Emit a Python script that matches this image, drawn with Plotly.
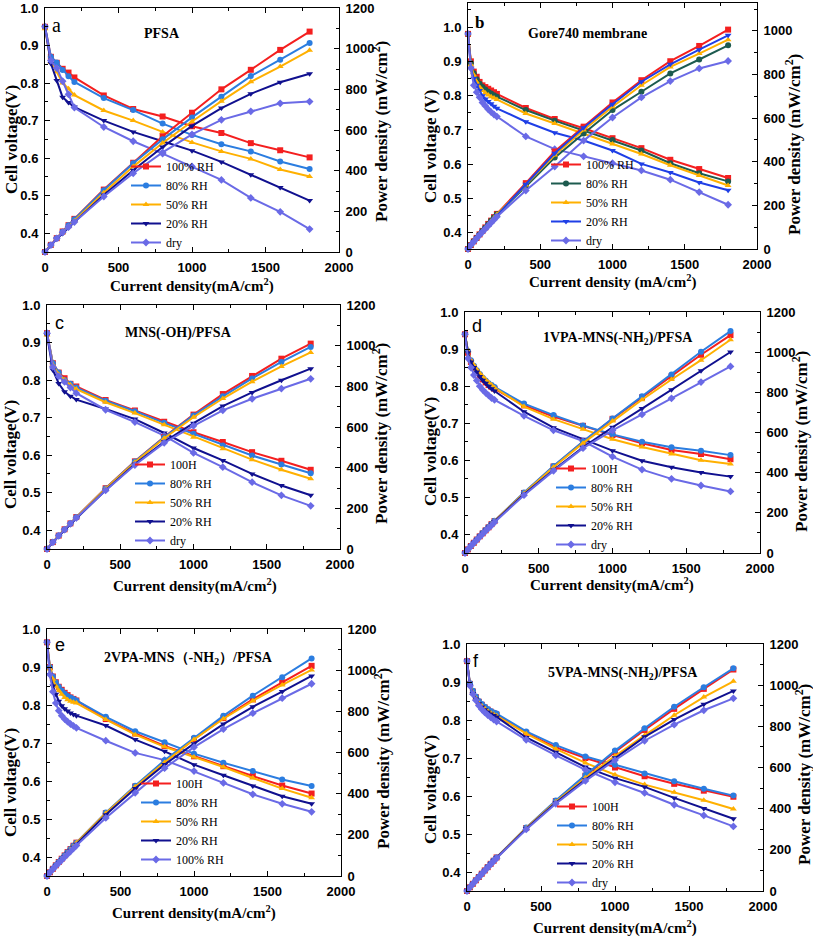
import plotly.graph_objects as go

# ---------------- data ----------------
I_SPARSE = [0, 40, 80, 120, 160, 200, 400, 600, 800, 1000, 1200, 1400, 1600, 1800]
I_DENSE = [0, 20, 40, 60, 80, 100, 120, 140, 160, 180, 200, 400, 600, 800, 1000, 1200, 1400, 1600, 1800]

# panel a : PFSA
A_V100 = [0.95, 0.87, 0.854, 0.838, 0.828, 0.815, 0.767, 0.731, 0.711, 0.685, 0.667, 0.640, 0.621, 0.602]
A_V80 = [0.95, 0.87, 0.855, 0.835, 0.818, 0.803, 0.760, 0.728, 0.692, 0.662, 0.637, 0.618, 0.591, 0.571]
A_V50 = [0.945, 0.855, 0.83, 0.80, 0.785, 0.768, 0.727, 0.700, 0.670, 0.642, 0.618, 0.598, 0.570, 0.551]
A_V20 = [0.95, 0.852, 0.807, 0.762, 0.748, 0.736, 0.700, 0.670, 0.645, 0.620, 0.590, 0.556, 0.522, 0.487]
A_VDRY = [0.95, 0.86, 0.84, 0.805, 0.77, 0.735, 0.683, 0.645, 0.612, 0.578, 0.542, 0.494, 0.457, 0.411]
A_P100 = [0, 35, 68, 101, 132, 163, 307, 439, 569, 685, 800, 896, 994, 1084]
A_P80 = [0, 35, 68, 100, 131, 161, 304, 437, 554, 662, 764, 865, 946, 1028]
A_P50 = [0, 34, 66, 96, 126, 154, 291, 420, 536, 642, 742, 837, 912, 992]
A_P20 = [0, 34, 65, 91, 120, 147, 280, 402, 516, 620, 708, 778, 835, 877]
A_PDRY = [0, 34, 67, 97, 123, 147, 273, 387, 490, 578, 650, 692, 731, 740]

# panel b : Gore740
B_V100 = [0.98, 0.90, 0.87, 0.855, 0.84, 0.83, 0.825, 0.82, 0.815, 0.81, 0.805, 0.764, 0.732, 0.705, 0.676, 0.647, 0.613, 0.586, 0.560]
B_V80 = [0.98, 0.895, 0.865, 0.848, 0.835, 0.825, 0.818, 0.811, 0.806, 0.801, 0.797, 0.758, 0.727, 0.698, 0.671, 0.640, 0.603, 0.574, 0.550]
B_V50 = [0.98, 0.89, 0.86, 0.84, 0.825, 0.815, 0.808, 0.802, 0.797, 0.793, 0.789, 0.748, 0.719, 0.690, 0.659, 0.630, 0.597, 0.567, 0.538]
B_V20 = [0.98, 0.88, 0.85, 0.83, 0.815, 0.80, 0.79, 0.783, 0.776, 0.769, 0.763, 0.724, 0.692, 0.669, 0.640, 0.601, 0.576, 0.547, 0.524]
B_VDRY = [0.98, 0.88, 0.83, 0.81, 0.795, 0.78, 0.77, 0.76, 0.752, 0.745, 0.739, 0.681, 0.644, 0.623, 0.603, 0.582, 0.555, 0.519, 0.482]
B_P100 = [0, 18, 35, 51, 67, 83, 99, 115, 130, 146, 161, 302, 447, 561, 672, 774, 861, 931, 1006]
B_P80 = [0, 18, 35, 51, 67, 83, 98, 114, 129, 144, 159, 287, 419, 530, 637, 721, 805, 869, 934]
B_P50 = [0, 18, 34, 50, 66, 82, 97, 112, 128, 143, 158, 294, 431, 546, 652, 751, 835, 896, 960]
B_P20 = [0, 18, 34, 50, 65, 80, 95, 110, 124, 138, 153, 297, 439, 556, 664, 767, 847, 914, 980]
B_PDRY = [0, 18, 33, 49, 64, 78, 92, 106, 120, 134, 148, 268, 378, 497, 603, 695, 770, 828, 862]

# panel c : MNS(-OH)/PFSA
C_V100 = [0.925, 0.845, 0.82, 0.805, 0.79, 0.783, 0.747, 0.719, 0.689, 0.661, 0.635, 0.608, 0.585, 0.561]
C_V80 = [0.925, 0.845, 0.82, 0.80, 0.79, 0.78, 0.745, 0.717, 0.686, 0.657, 0.626, 0.599, 0.575, 0.552]
C_V50 = [0.92, 0.84, 0.815, 0.80, 0.787, 0.776, 0.741, 0.712, 0.681, 0.648, 0.617, 0.588, 0.561, 0.537]
C_V20 = [0.92, 0.827, 0.791, 0.769, 0.757, 0.748, 0.723, 0.696, 0.659, 0.619, 0.586, 0.550, 0.519, 0.493]
C_VDRY = [0.925, 0.835, 0.81, 0.795, 0.78, 0.765, 0.721, 0.688, 0.652, 0.606, 0.568, 0.528, 0.493, 0.465]
C_P100 = [0, 34, 66, 97, 126, 157, 299, 431, 551, 661, 762, 851, 936, 1010]
C_P80 = [0, 34, 66, 96, 126, 156, 298, 430, 549, 657, 751, 839, 920, 994]
C_P50 = [0, 34, 65, 96, 126, 155, 296, 427, 545, 648, 740, 823, 898, 967]
C_P20 = [0, 33, 63, 92, 121, 150, 289, 418, 527, 619, 703, 770, 830, 887]
C_PDRY = [0, 33, 65, 95, 125, 153, 288, 413, 522, 606, 682, 739, 789, 837]

# panel d : 1VPA-MNS(-NH2)/PFSA
D_V100 = [0.94, 0.89, 0.865, 0.85, 0.838, 0.828, 0.818, 0.81, 0.803, 0.798, 0.793, 0.748, 0.718, 0.693, 0.668, 0.646, 0.628, 0.617, 0.603]
D_V80 = [0.94, 0.895, 0.87, 0.855, 0.843, 0.833, 0.823, 0.815, 0.808, 0.803, 0.798, 0.753, 0.722, 0.694, 0.670, 0.650, 0.635, 0.626, 0.614]
D_V50 = [0.94, 0.895, 0.87, 0.857, 0.845, 0.835, 0.826, 0.817, 0.81, 0.803, 0.796, 0.745, 0.711, 0.684, 0.657, 0.636, 0.617, 0.600, 0.590]
D_V20 = [0.94, 0.89, 0.865, 0.85, 0.838, 0.826, 0.816, 0.808, 0.80, 0.793, 0.787, 0.731, 0.688, 0.657, 0.626, 0.599, 0.581, 0.567, 0.556]
D_VDRY = [0.94, 0.875, 0.85, 0.83, 0.815, 0.80, 0.79, 0.782, 0.775, 0.768, 0.763, 0.720, 0.681, 0.652, 0.610, 0.575, 0.550, 0.532, 0.516]
D_P100 = [0, 18, 35, 51, 67, 83, 98, 113, 128, 144, 159, 299, 431, 554, 668, 775, 879, 987, 1085]
D_P80 = [0, 18, 35, 51, 67, 83, 99, 114, 129, 145, 160, 301, 433, 555, 670, 780, 889, 1002, 1105]
D_P50 = [0, 18, 35, 51, 68, 84, 99, 114, 130, 145, 159, 298, 427, 547, 657, 763, 864, 960, 1062]
D_P20 = [0, 18, 35, 51, 67, 83, 98, 113, 128, 143, 157, 292, 413, 526, 626, 719, 813, 907, 1001]
D_PDRY = [0, 18, 34, 50, 65, 80, 95, 110, 124, 138, 153, 288, 409, 522, 610, 690, 770, 851, 929]

# panel e : 2VPA-MNS(-NH2)/PFSA
E_V100 = [0.965, 0.90, 0.875, 0.86, 0.848, 0.84, 0.832, 0.826, 0.82, 0.816, 0.812, 0.763, 0.725, 0.692, 0.665, 0.639, 0.613, 0.588, 0.567]
E_V80 = [0.965, 0.90, 0.875, 0.86, 0.848, 0.838, 0.83, 0.824, 0.82, 0.816, 0.812, 0.769, 0.731, 0.702, 0.672, 0.648, 0.626, 0.604, 0.587]
E_V50 = [0.965, 0.895, 0.868, 0.85, 0.838, 0.828, 0.82, 0.814, 0.81, 0.807, 0.805, 0.762, 0.722, 0.690, 0.663, 0.637, 0.608, 0.580, 0.556]
E_V20 = [0.965, 0.88, 0.85, 0.828, 0.81, 0.798, 0.79, 0.784, 0.779, 0.775, 0.772, 0.746, 0.709, 0.678, 0.643, 0.615, 0.587, 0.560, 0.540]
E_VDRY = [0.965, 0.88, 0.835, 0.805, 0.785, 0.772, 0.763, 0.756, 0.75, 0.745, 0.740, 0.706, 0.674, 0.655, 0.626, 0.595, 0.565, 0.540, 0.519]
E_P100 = [0, 18, 35, 52, 68, 84, 100, 116, 131, 147, 162, 305, 435, 554, 665, 767, 858, 941, 1021]
E_P80 = [0, 18, 35, 52, 68, 84, 100, 115, 131, 147, 162, 308, 439, 562, 672, 778, 876, 966, 1057]
E_P50 = [0, 18, 35, 51, 67, 83, 98, 114, 130, 145, 161, 305, 433, 552, 663, 764, 851, 928, 1001]
E_P20 = [0, 18, 34, 50, 65, 80, 95, 110, 125, 140, 154, 298, 425, 542, 643, 738, 822, 896, 972]
E_PDRY = [0, 18, 33, 48, 63, 77, 92, 106, 120, 134, 148, 282, 404, 524, 626, 714, 791, 864, 934]

# panel f : 5VPA-MNS(-NH2)/PFSA
F_V100 = [0.955, 0.895, 0.875, 0.86, 0.848, 0.84, 0.833, 0.827, 0.822, 0.818, 0.814, 0.766, 0.728, 0.700, 0.675, 0.652, 0.632, 0.614, 0.598]
F_V80 = [0.955, 0.897, 0.877, 0.862, 0.85, 0.842, 0.835, 0.829, 0.824, 0.82, 0.817, 0.770, 0.734, 0.704, 0.682, 0.659, 0.639, 0.619, 0.601]
F_V50 = [0.955, 0.893, 0.872, 0.857, 0.845, 0.837, 0.83, 0.824, 0.819, 0.815, 0.811, 0.764, 0.724, 0.687, 0.656, 0.630, 0.610, 0.589, 0.566]
F_V20 = [0.955, 0.89, 0.87, 0.855, 0.843, 0.834, 0.827, 0.821, 0.816, 0.812, 0.808, 0.754, 0.715, 0.676, 0.647, 0.624, 0.595, 0.567, 0.540]
F_VDRY = [0.955, 0.89, 0.868, 0.852, 0.838, 0.828, 0.82, 0.813, 0.807, 0.801, 0.796, 0.748, 0.707, 0.669, 0.636, 0.608, 0.577, 0.549, 0.520]
F_P100 = [0, 18, 35, 52, 68, 84, 100, 116, 132, 147, 163, 306, 437, 560, 675, 782, 885, 982, 1076]
F_P80 = [0, 18, 35, 52, 68, 84, 100, 116, 132, 148, 163, 308, 440, 563, 682, 791, 895, 990, 1082]
F_P50 = [0, 18, 35, 51, 68, 84, 100, 115, 131, 147, 162, 306, 434, 550, 656, 756, 854, 942, 1019]
F_P20 = [0, 18, 35, 51, 67, 83, 99, 115, 131, 146, 162, 302, 429, 541, 647, 749, 833, 907, 972]
F_PDRY = [0, 18, 35, 51, 67, 83, 98, 114, 129, 144, 159, 299, 424, 535, 636, 730, 808, 878, 936]

LABELS_AB = ["100% RH", "80% RH", "50% RH", "20% RH", "dry"]
LABELS_CDF = ["100H", "80% RH", "50% RH", "20% RH", "dry"]
LABELS_E = ["100H", "80% RH", "50% RH", "20% RH", "100% RH"]

X_TICKS = [0, 500, 1000, 1500, 2000]
V_TICKS = [0.4, 0.5, 0.6, 0.7, 0.8, 0.9, 1.0]
V_TICKTEXT = ["0.4", "0.5", "0.6", "0.7", "0.8", "0.9", "1.0"]

# ---------------- styling / layout ----------------
W, H = 813, 937
def px(x):
    return x / W
def py(y):
    return 1 - y / H

SYMBOLS = ["square", "circle", "triangle-up", "triangle-down", "diamond"]
COLORS = ["#f41f1f", "#2b7de0", "#ffb000", "#10108f", "#6a6ae6"]
COLORS_B = ["#f41f1f", "#1d5b4f", "#ffb000", "#1f3fe6", "#6a6ae6"]

SERIF = "Liberation Serif"
SANS = "Liberation Sans"

panels = [
    dict(I=I_SPARSE, V=[A_V100, A_V80, A_V50, A_V20, A_VDRY], P=[A_P100, A_P80, A_P50, A_P20, A_PDRY],
         labels=LABELS_AB, colors=COLORS, frame=(45, 339, 8, 252), vr=[0.35, 1.0], pr=[0, 1200],
         title="PFSA", tpos=(162, 34), letter="a", lpos=(57, 25), lfont=(SERIF, 20, "normal"),
         xt="Current density(mA/cm<sup>2</sup>)", xtp=(192, 285),
         yt="Cell voltage(V)", ytp=(12, 140), rt="Power density (mW/cm<sup>2</sup>)", rtp=(380, 132),
         leg=(126, 152)),
    dict(I=I_DENSE, V=[B_V100, B_V80, B_V50, B_V20, B_VDRY], P=[B_P100, B_P80, B_P50, B_P20, B_PDRY],
         labels=LABELS_AB, colors=COLORS_B, frame=(468, 757, 3, 249), vr=[0.353, 1.07], pr=[0, 1128],
         title="Gore740 membrane", tpos=(587, 33), letter="b", lpos=(479, 23), lfont=(SERIF, 17, "bold"),
         xt="Current density (mA/cm<sup>2</sup>)", xtp=(612, 281),
         yt="Cell voltage (V)", ytp=(430, 147), rt="Power density (mW/cm<sup>2</sup>)", rtp=(793, 145),
         leg=(546, 150)),
    dict(I=I_SPARSE, V=[C_V100, C_V80, C_V50, C_V20, C_VDRY], P=[C_P100, C_P80, C_P50, C_P20, C_PDRY],
         labels=LABELS_CDF, colors=COLORS, frame=(47, 340, 305, 549), vr=[0.35, 1.0], pr=[0, 1200],
         title="MNS(-OH)/PFSA", tpos=(178, 333), letter="c", lpos=(59, 323), lfont=(SANS, 18, "normal"),
         xt="Current density(mA/cm<sup>2</sup>)", xtp=(195, 585),
         yt="Cell voltage(V)", ytp=(10, 455), rt="Power density (mW/cm<sup>2</sup>)", rtp=(380, 434),
         leg=(130, 450)),
    dict(I=I_DENSE, V=[D_V100, D_V80, D_V50, D_V20, D_VDRY], P=[D_P100, D_P80, D_P50, D_P20, D_PDRY],
         labels=LABELS_CDF, colors=COLORS, frame=(465, 760, 312, 553), vr=[0.35, 1.0], pr=[0, 1200],
         title="1VPA-MNS(-NH<sub>2</sub>)/PFSA", tpos=(618, 339), letter="d", lpos=(477, 326), lfont=(SANS, 18, "normal"),
         xt="Current density(mA/cm<sup>2</sup>)", xtp=(612, 584),
         yt="Cell voltage(V)", ytp=(430, 452), rt="Power density (mW/cm<sup>2</sup>)", rtp=(800, 442),
         leg=(551, 454)),
    dict(I=I_DENSE, V=[E_V100, E_V80, E_V50, E_V20, E_VDRY], P=[E_P100, E_P80, E_P50, E_P20, E_PDRY],
         labels=LABELS_E, colors=COLORS, frame=(47, 341, 629, 876), vr=[0.35, 1.0], pr=[0, 1200],
         title="2VPA-MNS（-NH<sub>2</sub>）/PFSA", tpos=(188, 658), letter="e", lpos=(60, 645), lfont=(SANS, 18, "normal"),
         xt="Current density(mA/cm<sup>2</sup>)", xtp=(194, 912),
         yt="Cell voltage(V)", ytp=(10, 783), rt="Power density (mW/cm<sup>2</sup>)", rtp=(382, 759),
         leg=(136, 769)),
    dict(I=I_DENSE, V=[F_V100, F_V80, F_V50, F_V20, F_VDRY], P=[F_P100, F_P80, F_P50, F_P20, F_PDRY],
         labels=LABELS_CDF, colors=COLORS, frame=(467, 763, 644, 891), vr=[0.35, 1.0], pr=[0, 1200],
         title="5VPA-MNS(-NH<sub>2</sub>)/PFSA", tpos=(623, 673), letter="f", lpos=(476, 661), lfont=(SANS, 18, "normal"),
         xt="Current density(mA/cm<sup>2</sup>)", xtp=(615, 927),
         yt="Cell voltage(V)", ytp=(430, 790), rt="Power density (mW/cm<sup>2</sup>)", rtp=(803, 775),
         leg=(552, 792)),
]

fig = go.Figure()
layout = {}
annotations = []

tickfont = dict(family=SANS, size=13, color="black", weight="bold")
common = dict(ticks="inside", ticklen=5, tickwidth=1, tickcolor="black", showline=True,
              linecolor="black", linewidth=1, showgrid=False, zeroline=False, tickfont=tickfont,
              ticklabelstandoff=3, automargin=False, ticklabeloverflow="allow")

def ann(text, x, y, family, size, weight="normal", angle=0):
    return dict(text=text, x=px(x), y=py(y), xref="paper", yref="paper", showarrow=False,
                xanchor="center", yanchor="middle", textangle=angle,
                font=dict(family=family, size=size, color="black", weight=weight))

for k, p in enumerate(panels, start=1):
    xa = "x" if k == 1 else f"x{k}"
    ya = "y" if k == 1 else f"y{k}"
    yr = f"y{k + 6}"
    legname = "legend" if k == 1 else f"legend{k}"
    for j in range(5):
        c = p["colors"][j]
        fig.add_trace(go.Scatter(x=p["I"], y=p["P"][j], xaxis=xa, yaxis=yr, mode="lines+markers",
                                 name=p["labels"][j], showlegend=False, cliponaxis=False,
                                 line=dict(color=c, width=2), marker=dict(symbol=SYMBOLS[j], size=6, color=c)))
    for j in range(5):
        c = p["colors"][j]
        fig.add_trace(go.Scatter(x=p["I"], y=p["V"][j], xaxis=xa, yaxis=ya, mode="lines+markers",
                                 name=p["labels"][j], legend=legname, showlegend=True, cliponaxis=False,
                                 line=dict(color=c, width=2), marker=dict(symbol=SYMBOLS[j], size=6, color=c)))
    x0, x1, y0, y1 = p["frame"]
    xkey = "xaxis" if k == 1 else f"xaxis{k}"
    ykey = "yaxis" if k == 1 else f"yaxis{k}"
    layout[xkey] = dict(domain=[px(x0), px(x1)], anchor=ya, range=[0, 2000], tickvals=X_TICKS,
                        mirror="ticks", minor=dict(ticks="inside", dtick=250, ticklen=3, tickcolor="black"),
                        **common)
    layout[ykey] = dict(domain=[py(y1), py(y0)], anchor=xa, range=p["vr"], tickvals=V_TICKS,
                        ticktext=V_TICKTEXT,
                        minor=dict(ticks="inside", tick0=0, dtick=0.05, ticklen=3, tickcolor="black"),
                        **common)
    layout[f"yaxis{k + 6}"] = dict(overlaying=ya, anchor=xa, side="right", range=p["pr"], tick0=0,
                                   dtick=200, minor=dict(ticks="inside", dtick=100, ticklen=3, tickcolor="black"),
                                   **common)
    layout[legname] = dict(x=px(p["leg"][0]), y=py(p["leg"][1]), xanchor="left", yanchor="top",
                           bgcolor="rgba(0,0,0,0)", borderwidth=0,
                           font=dict(family=SERIF, size=12, color="black"), itemwidth=30)
    annotations.append(ann(p["title"], *p["tpos"], SERIF, 14, "bold"))
    lf = p["lfont"]
    annotations.append(ann(p["letter"], *p["lpos"], lf[0], lf[1], lf[2]))
    annotations.append(ann(p["xt"], *p["xtp"], SERIF, 15, "bold"))
    annotations.append(ann(p["yt"], *p["ytp"], SERIF, 17, "bold", -90))
    annotations.append(ann(p["rt"], *p["rtp"], SERIF, 17, "bold", -90))

fig.update_layout(**layout)
fig.update_layout(width=W, height=H, margin=dict(l=0, r=0, t=0, b=0, autoexpand=False),
                  paper_bgcolor="white", plot_bgcolor="white", annotations=annotations, showlegend=True)
fig.write_html("out.html", config={"displayModeBar": False},
               post_script="document.body.style.margin='0px';")
